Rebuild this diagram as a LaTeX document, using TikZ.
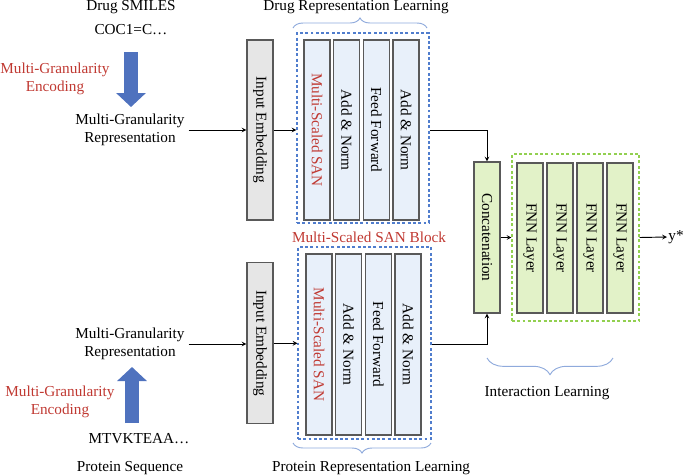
\documentclass[tikz,border=0pt]{standalone}
\usepackage{fontspec}
\setmainfont{Liberation Serif}
\usepackage{tikz}
\usetikzlibrary{positioning,arrows,arrows.meta,decorations.pathreplacing}
\definecolor{boxgray}{RGB}{89,89,89}
\definecolor{embgray}{RGB}{230,230,230}
\definecolor{sanblue}{RGB}{232,240,250}
\definecolor{fnngreen}{RGB}{226,242,200}
\definecolor{dashblue}{RGB}{80,125,205}
\definecolor{dashgreen}{RGB}{146,208,80}
\definecolor{arrowblue}{RGB}{79,114,190}
\definecolor{bracegray}{RGB}{143,170,220}
\definecolor{redtxt}{RGB}{192,57,50}
\tikzstyle{embbox} = [rectangle,minimum width=0.78cm,inner sep=0pt,draw=boxgray,line width=0.9pt,fill=embgray]
\tikzstyle{sanbox} = [rectangle,minimum width=0.78cm,minimum height=5.4cm,inner sep=0pt,draw=boxgray,line width=0.9pt,fill=sanblue]
\tikzstyle{fnnbox} = [rectangle,minimum width=0.78cm,minimum height=4.5cm,inner sep=0pt,draw=boxgray,line width=0.9pt,fill=fnngreen]
\tikzstyle{blockblue} = [rectangle,dash pattern=on 2.5pt off 2pt,draw=dashblue,line width=0.9pt]
\tikzstyle{blockgreen} = [rectangle,dash pattern=on 2.5pt off 2pt,draw=dashgreen,line width=0.9pt]
\tikzstyle{redtext} = [text=redtxt,align=center]
\tikzstyle{arrow} = [thick,->,>=stealth]
\tikzstyle{bigarrow} = [line width=0.42cm,draw=arrowblue,-{Triangle[width=0.87cm,length=0.42cm]}]
\tikzstyle{bracearc} = [decorate,decoration={brace,amplitude=0.3cm},draw=bracegray,thick]

\begin{document}
\begin{tikzpicture}
\tikzstyle{every node}=[font=\fontsize{13}{15.5}\selectfont]
\useasboundingbox (0,0) rectangle (20.55,-14.25);

% drug branch
\node (smiles) [xshift=3.93cm,yshift=-0.21cm] {Drug SMILES};
\node (coc) [below of=smiles,yshift=0.31cm] {COC1=C…};
\coordinate (arD1) at (3.93,-1.56);
\coordinate (arD2) at (3.93,-3.21);
\node (encD) [redtext,xshift=1.65cm,yshift=-2.37cm] {Multi-Granularity\\Encoding};
\node (reprD) [align=center,xshift=3.9cm,yshift=-3.9cm] {Multi-Granularity\\Representation};

\node (embD) [embbox,minimum height=5.4cm,xshift=7.8cm,yshift=-3.9cm] {\rotatebox{-90}{Input Embedding}};
\node (sanD1) [sanbox,text=redtxt,xshift=9.51cm,yshift=-3.9cm] {\rotatebox{-90}{Multi-Scaled SAN}};
\node (sanD2) [sanbox,right of=sanD1,xshift=-0.11cm] {\rotatebox{-90}{Add \& Norm}};
\node (sanD3) [sanbox,right of=sanD2,xshift=-0.11cm] {\rotatebox{-90}{Feed Forward}};
\node (sanD4) [sanbox,right of=sanD3,xshift=-0.11cm] {\rotatebox{-90}{Add \& Norm}};
\node (blkD) [blockblue,minimum width=3.96cm,minimum height=5.7cm,xshift=10.89cm,yshift=-3.84cm] {};

\node (lblD) [xshift=10.68cm,yshift=-0.21cm] {Drug Representation Learning};
\node (lblB) [text=redtxt,xshift=11.07cm,yshift=-7.11cm] {Multi-Scaled SAN Block};
\coordinate (brD1) at (8.79,-0.84);
\coordinate (brD2) at (12.81,-0.84);

% protein branch
\node (protseq) [xshift=3.9cm,yshift=-14.04cm] {Protein Sequence};
\node (mtv) [xshift=4.17cm,yshift=-13.17cm] {MTVKTEAA…};
\coordinate (arP1) at (3.96,-12.69);
\coordinate (arP2) at (3.96,-11.01);
\node (encP) [redtext,xshift=1.8cm,yshift=-12.06cm] {Multi-Granularity\\Encoding};
\node (reprP) [align=center,xshift=3.9cm,yshift=-10.32cm] {Multi-Granularity\\Representation};

\node (embP) [embbox,minimum height=4.83cm,xshift=7.8cm,yshift=-10.3cm] {\rotatebox{-90}{Input Embedding}};
\node (sanP1) [sanbox,minimum height=5.43cm,text=redtxt,xshift=9.57cm,yshift=-10.335cm] {\rotatebox{-90}{Multi-Scaled SAN}};
\node (sanP2) [sanbox,minimum height=5.43cm,right of=sanP1,xshift=-0.11cm] {\rotatebox{-90}{Add \& Norm}};
\node (sanP3) [sanbox,minimum height=5.43cm,right of=sanP2,xshift=-0.11cm] {\rotatebox{-90}{Feed Forward}};
\node (sanP4) [sanbox,minimum height=5.43cm,right of=sanP3,xshift=-0.11cm] {\rotatebox{-90}{Add \& Norm}};
\node (blkP) [blockblue,minimum width=3.99cm,minimum height=5.76cm,xshift=10.935cm,yshift=-10.29cm] {};

\node (lblP) [xshift=11.13cm,yshift=-14.04cm] {Protein Representation Learning};
\coordinate (brP1) at (12.93,-13.29);
\coordinate (brP2) at (8.79,-13.29);

% interaction
\node (cat) [embbox,fill=fnngreen,minimum height=4.53cm,xshift=14.61cm,yshift=-7.125cm] {\rotatebox{-90}{Concatenation}};
\node (fnn1) [fnnbox,xshift=15.9cm,yshift=-7.14cm] {\rotatebox{-90}{FNN Layer}};
\node (fnn2) [fnnbox,right of=fnn1,xshift=-0.1cm] {\rotatebox{-90}{FNN Layer}};
\node (fnn3) [fnnbox,right of=fnn2,xshift=-0.1cm] {\rotatebox{-90}{FNN Layer}};
\node (fnn4) [fnnbox,right of=fnn3,xshift=-0.1cm] {\rotatebox{-90}{FNN Layer}};
\node (blkI) [blockgreen,minimum width=3.81cm,minimum height=5.01cm,xshift=17.265cm,yshift=-7.125cm] {};
\node (ystar) [anchor=west,inner sep=1pt,xshift=20.01cm,yshift=-7.11cm] {y*};

\node (lblI) [xshift=16.41cm,yshift=-11.79cm] {Interaction Learning};
\coordinate (brI1) at (18.39,-10.74);
\coordinate (brI2) at (14.61,-10.74);

\draw[bigarrow] (arD1) -- (arD2);
\draw[bigarrow] (arP1) -- (arP2);

\draw[bracearc] (brD1) -- (brD2);
\draw[bracearc] (brP1) -- (brP2);
\draw[bracearc,decoration={brace,amplitude=0.5cm}] (brI1) -- (brI2);

\draw[arrow] (reprD.east) -- (reprD.east -| embD.west);
\draw[arrow] (embD.east) -- (embD.east -| blkD.west);
\draw[arrow] (reprP.east) -- (reprP.east -| embP.west);
\draw[arrow] (embP.east) -- (embP.east -| blkP.west);
\draw[arrow] (sanD4.east -| blkD.east) -| (cat.north);
\draw[arrow] (sanP4.east -| blkP.east) -| (cat.south);
\draw[arrow] (cat.east) -- (cat.east -| blkI.west);
\draw[arrow] (blkI.east) -- (ystar.west);
\end{tikzpicture}
\end{document}
